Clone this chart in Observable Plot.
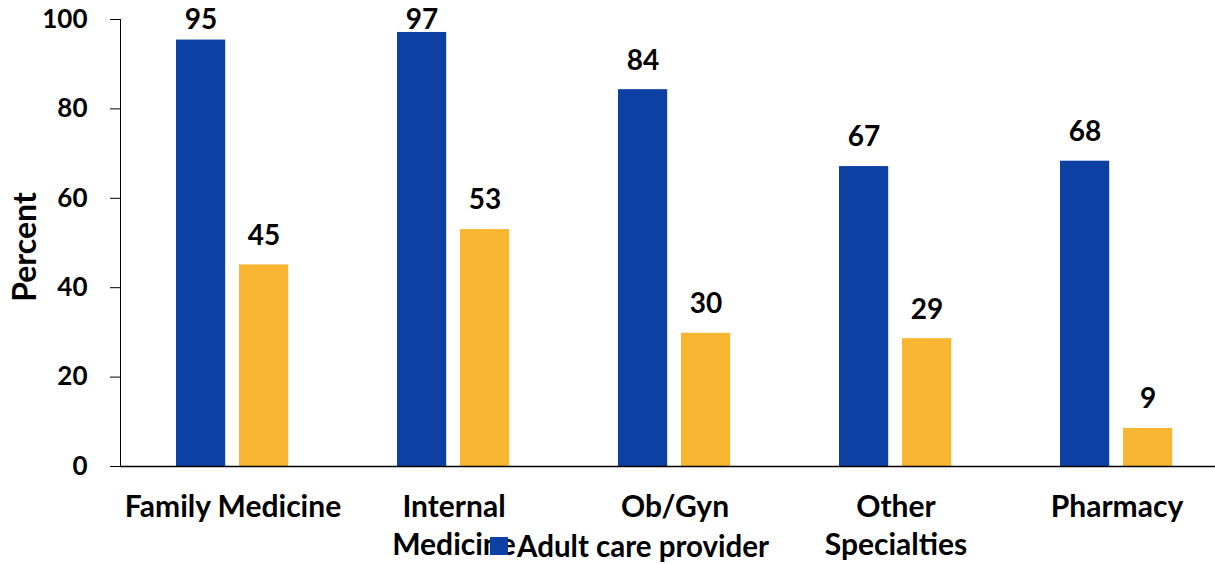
<!DOCTYPE html>
<html>
<head>
<meta charset="utf-8">
<script src="https://cdn.jsdelivr.net/npm/d3@7"></script>
<script src="https://cdn.jsdelivr.net/npm/@observablehq/plot@0.6"></script>
<style>
  html, body { margin: 0; padding: 0; background: #fff; }
  #wrap { position: relative; width: 1215px; height: 564px; overflow: hidden; font-family: Lato, "Open Sans", sans-serif; font-weight: bold; }
  #wrap svg { overflow: visible; }
  #legend { position: absolute; left: 490px; top: 531px; display: flex; align-items: center; font-size: 29.5px; line-height: 30px; color: #000; }
  #legend .sw { width: 18px; height: 18px; margin-right: 9px; }
</style>
</head>
<body>
<div id="wrap"></div>
<script>
const categories = ["Family Medicine", "Internal Medicine", "Ob/Gyn", "Other Specialties", "Pharmacy"];
const categoryLabels = ["Family Medicine", "Internal\nMedicine", "Ob/Gyn", "Other\nSpecialties", "Pharmacy"];
const seriesNames = ["Adult care provider", "Other provider"];
const seriesColors = ["#0c41a3", "#f9b632"];
const adultValues = [95.4, 97.1, 84.3, 67.1, 68.3];
const otherValues = [45.1, 53.0, 29.8, 28.6, 8.5];
const yTicks = [0, 20, 40, 60, 80, 100];

const adultData = categories.map((c, i) => ({category: c, value: adultValues[i]}));
const otherData = categories.map((c, i) => ({category: c, value: otherValues[i]}));
const labelOf = new Map(categories.map((c, i) => [c, categoryLabels[i]]));
// value labels sit ~20px above each bar, but never above the top of the plot
const labelY = d => Math.min(d.value + 4.5, 97.8);

const chart = Plot.plot({
  width: 1215,
  height: 564,
  marginLeft: 120,
  marginRight: 0,
  marginTop: 19,
  marginBottom: 98,
  style: {fontFamily: "Lato, 'Open Sans', sans-serif", fontSize: "26px", fontWeight: "bold", color: "#000", background: "transparent", overflow: "visible"},
  x: {domain: categories, range: [120, 1229], padding: 0, axis: null},
  y: {domain: [0, 100], ticks: yTicks, tickSize: 10, tickPadding: 23, line: true, label: null},
  marks: [
    Plot.barY(adultData, {x: "category", y: "value", fill: seriesColors[0], insetLeft: 54, insetRight: 117.8}),
    Plot.barY(otherData, {x: "category", y: "value", fill: seriesColors[1], insetLeft: 117, insetRight: 54.8}),
    Plot.ruleY([0], {stroke: "#000", strokeWidth: 1.5}),
    Plot.text(adultData, {x: "category", y: labelY, text: d => String(Math.round(d.value)), dx: -31.9, lineAnchor: "bottom", fill: "#000", fontSize: 28}),
    Plot.text(otherData, {x: "category", y: labelY, text: d => String(Math.round(d.value)), dx: 31.1, lineAnchor: "bottom", fill: "#000", fontSize: 28}),
    Plot.text(categories, {x: d => d, frameAnchor: "bottom", text: d => labelOf.get(d), lineAnchor: "top", lineHeight: 1.26, dy: 24, fill: "#000", fontSize: 30}),
    Plot.text(["Percent"], {frameAnchor: "left", textAnchor: "middle", dx: -95, dy: 4, rotate: -90, fill: "#000", fontSize: 32})
  ]
});

const wrap = document.getElementById("wrap");
wrap.appendChild(chart);
const legend = document.createElement("div");
legend.id = "legend";
legend.innerHTML = `<div class="sw" style="background:${seriesColors[0]}"></div><span>${seriesNames[0]}</span>`;
wrap.appendChild(legend);
</script>
</body>
</html>
